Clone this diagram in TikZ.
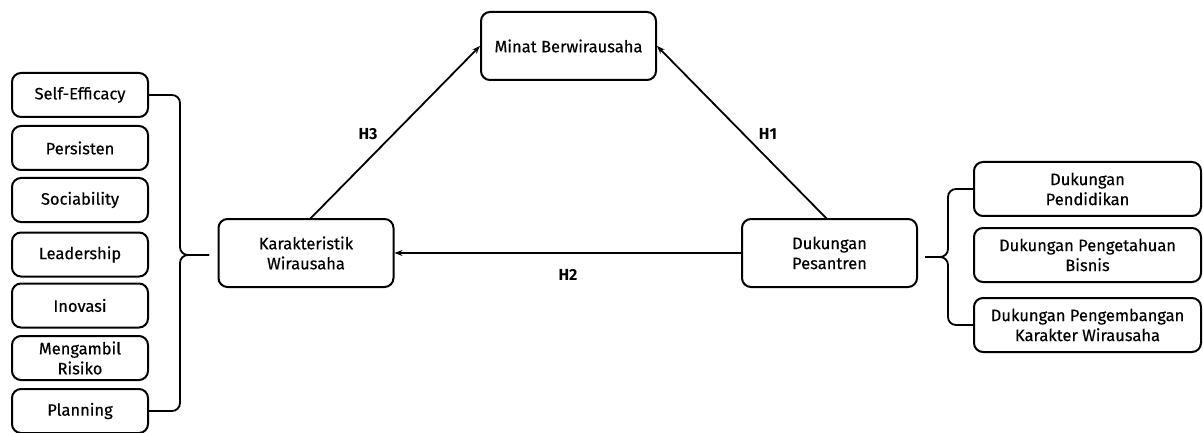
\documentclass[tikz,border=0pt]{standalone}
\usepackage{fontspec}
\setmainfont{Fira Sans}
\newfontfamily\medfont{Fira Sans}[FakeBold=0.4]
\usetikzlibrary{arrows.meta}
\begin{document}
\begin{tikzpicture}[x=1pt,y=-1pt,
  box/.style={draw,line width=2pt,rounded corners=9pt,align=center,inner sep=0pt,font=\medfont\fontsize{16.5}{20}\selectfont},
  lbox/.style={box,minimum width=136pt,minimum height=44pt},
  rbox/.style={box,minimum width=227pt,minimum height=54pt},
  cbox/.style={box,minimum width=175pt,minimum height=68pt},
  link/.style={line width=1.8pt,-{Stealth[length=8pt,width=6pt]}},
  brace/.style={line width=1.8pt,rounded corners=8pt},
  hlab/.style={font=\bfseries\fontsize{16}{18}\selectfont}]
\useasboundingbox (0,0) rectangle (1203,433);
% left list
\node[lbox] (se) at (80,95) {Self-Efficacy};
\node[lbox] (pe) at (80,148) {Persisten};
\node[lbox] (so) at (80,200) {Sociability};
\node[lbox] (le) at (80,254.5) {Leadership};
\node[lbox] (in) at (80,305.5) {Inovasi};
\node[lbox] (mr) at (80,358) {Mengambil\\Risiko};
\node[lbox] (pl) at (80,411) {Planning};
% central
\node[cbox] (kw) at (306,253) {Karakteristik\\Wirausaha};
\node[cbox] (mb) at (568.5,46) {Minat Berwirausaha};
\node[cbox] (dp) at (829.5,253) {Dukungan\\Pesantren};
% right list
\node[rbox] (dpd) at (1087.5,189) {Dukungan\\Pendidikan};
\node[rbox] (dpb) at (1087.5,255) {Dukungan Pengetahuan\\Bisnis};
\node[rbox] (dpk) at (1087.5,325) {Dukungan Pengembangan\\Karakter Wirausaha};
% braces
\coordinate (lv) at (180,255);
\coordinate (lt) at (209,255);
\draw[brace] (se.east) -| (lv) -- (lt);
\draw[brace] (pl.east) -| (lv) -- (lt);
\coordinate (rv) at (948,257);
\coordinate (rt) at (925,257);
\draw[brace] (dpd.west) -| (rv) -- (rt);
\draw[brace] (dpk.west) -| (rv) -- (rt);
% arrows
\coordinate (kwt) at (310,219);
\coordinate (dpt) at (827,219);
\draw[link] (kwt) -- (mb.west);
\draw[link] (dpt) -- (mb.east);
\draw[link] (dp.west) -- (kw.east);
\node[hlab] (h3) at (368,134) {H3};
\node[hlab] (h1) at (768,134) {H1};
\node[hlab] (h2) at (568,275) {H2};
\end{tikzpicture}
\end{document}
